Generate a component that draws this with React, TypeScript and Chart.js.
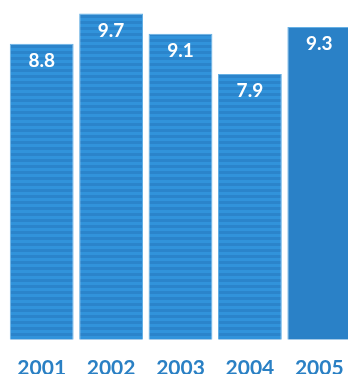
import React, { useEffect, useRef } from "react";
import { Chart, registerables } from "chart.js";

Chart.register(...registerables);

const years = ["2001", "2002", "2003", "2004", "2005"];
const values = [8.8, 9.7, 9.1, 7.9, 9.3];
const valueLabels = ["8.8", "9.7", "9.1", "7.9", "9.3"];

const STRIPE_LIGHT = "#3193db";
const STRIPE_DARK = "#2b84cb";
const SOLID = "#2a81c7";
const BORDER = "#66b0e4";
const AXIS_TEXT = "#2a80c4";

function makeStripePattern(ctx: CanvasRenderingContext2D): CanvasPattern | string {
  const c = document.createElement("canvas");
  c.width = 4;
  c.height = 6;
  const p = c.getContext("2d");
  if (!p) return STRIPE_LIGHT;
  p.fillStyle = STRIPE_LIGHT;
  p.fillRect(0, 0, 4, 3);
  p.fillStyle = STRIPE_DARK;
  p.fillRect(0, 3, 4, 3);
  return ctx.createPattern(c, "repeat") || STRIPE_LIGHT;
}

const valueLabelPlugin = {
  id: "valueLabels",
  afterDatasetsDraw(chart: any) {
    const ctx = chart.ctx as CanvasRenderingContext2D;
    const meta = chart.getDatasetMeta(0);
    ctx.save();
    ctx.fillStyle = "#ffffff";
    ctx.font = "bold 19px Lato";
    ctx.textAlign = "center";
    ctx.textBaseline = "middle";
    meta.data.forEach((el: any, i: number) => {
      ctx.fillText(valueLabels[i], el.x, el.y + 17);
    });
    ctx.restore();
  },
};

export default function App() {
  const ref = useRef<HTMLCanvasElement | null>(null);

  useEffect(() => {
    document.body.style.margin = "0";
    document.body.style.overflow = "hidden";
    const canvas = ref.current;
    if (!canvas) return;
    const ctx = canvas.getContext("2d")!;
    const pattern = makeStripePattern(ctx);
    const bg = values.map((_, i) => (i === values.length - 1 ? SOLID : pattern));

    const chart = new Chart(canvas, {
      type: "bar",
      data: {
        labels: years,
        datasets: [
          {
            data: values,
            backgroundColor: bg as any,
            borderColor: BORDER,
            borderWidth: 1,
            categoryPercentage: 0.92,
            barPercentage: 1,
          },
        ],
      },
      options: {
        responsive: false,
        animation: false,
        layout: { padding: { left: 7, right: 2, top: 0, bottom: -16 } },
        plugins: {
          legend: { display: false },
          tooltip: { enabled: false },
        },
        scales: {
          y: {
            display: false,
            min: 0,
            max: 10.1,
          },
          x: {
            grid: { display: false, drawTicks: false },
            border: { display: false },
            ticks: {
              color: AXIS_TEXT,
              font: { family: "Lato", weight: "bold", size: 21 },
              padding: 16,
            },
            afterFit: (scale: any) => {
              scale.paddingLeft = 0;
              scale.paddingRight = 0;
            },
          },
        },
      },
      plugins: [valueLabelPlugin],
    });
    return () => chart.destroy();
  }, []);

  return (
    <div style={{ width: 348, height: 374, overflow: "hidden" }}>
      <canvas ref={ref} width={356} height={381} style={{ display: "block" }} />
    </div>
  );
}
